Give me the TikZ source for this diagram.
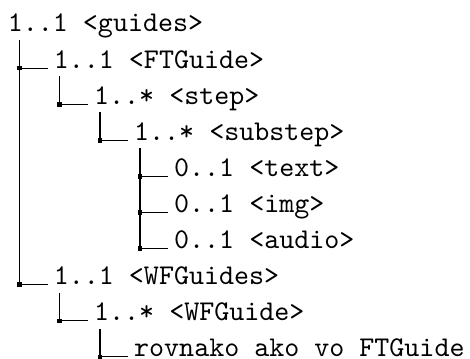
\documentclass[tikz,border=0pt]{standalone}
\usepackage{fontspec}
\setmonofont{lmmono10-regular.otf}
\usetikzlibrary{calc}
\tikzset{
    treelbl/.style={anchor=base west, inner sep=0pt,
                font=\fontsize{14.3pt}{17pt}\selectfont\ttfamily},
    treeline/.style={draw=black, line width=0.55pt},
    treeknot/.style={rectangle, fill=black, inner sep=0pt, minimum size=2.3pt},
}

\begin{document}
\begin{tikzpicture}[x=0.5pt, y=-0.5pt]

    \useasboundingbox (0,0) rectangle (470,358);

    \node[treelbl] (guides) at (7.5, 32.0) {1..1 <guides>};
    \node[treelbl] (ftguide) at (53.5, 68.1) {1..1 <FTGuide>};
    \node[treelbl] (step) at (93.8, 104.2) {1..* <step>};
    \node[treelbl] (substep) at (133.8, 140.3) {1..* <substep>};
    \node[treelbl] (text) at (173.8, 176.4) {0..1 <text>};
    \node[treelbl] (img) at (173.8, 212.5) {0..1 <img>};
    \node[treelbl] (audio) at (173.8, 248.6) {0..1 <audio>};
    \node[treelbl] (wfguides) at (53.5, 284.7) {1..1 <WFGuides>};
    \node[treelbl] (wfguide) at (93.8, 320.8) {1..* <WFGuide>};
    \node[treelbl] (same) at (133.8, 356.9) {rovnako ako vo FTGuide};

    \draw[treeline] ($(guides.base west)+(12,8)$) |- node[treeknot, midway] {} ($(ftguide.base west)+(-5.5,0)$);
    \draw[treeline] ($(guides.base west)+(12,8)$) |- node[treeknot, midway] {} ($(wfguides.base west)+(-5.5,0)$);

    \draw[treeline] ($(ftguide.base west)+(6,8)$) |- node[treeknot, midway] {} ($(step.base west)+(-5.5,0)$);
    \draw[treeline] ($(step.base west)+(6.2,8)$) |- node[treeknot, midway] {} ($(substep.base west)+(-5.5,0)$);

    \draw[treeline] ($(substep.base west)+(6.2,8)$) |- node[treeknot, midway] {} ($(text.base west)+(-5.5,0)$);
    \draw[treeline] ($(substep.base west)+(6.2,8)$) |- node[treeknot, midway] {} ($(img.base west)+(-5.5,0)$);
    \draw[treeline] ($(substep.base west)+(6.2,8)$) |- node[treeknot, midway] {} ($(audio.base west)+(-5.5,0)$);

    \draw[treeline] ($(wfguides.base west)+(6,8)$) |- node[treeknot, midway] {} ($(wfguide.base west)+(-5.5,0)$);
    \draw[treeline] ($(wfguide.base west)+(6.2,8)$) |- node[treeknot, midway] {} ($(same.base west)+(-5.5,0)$);

\end{tikzpicture}
\end{document}
